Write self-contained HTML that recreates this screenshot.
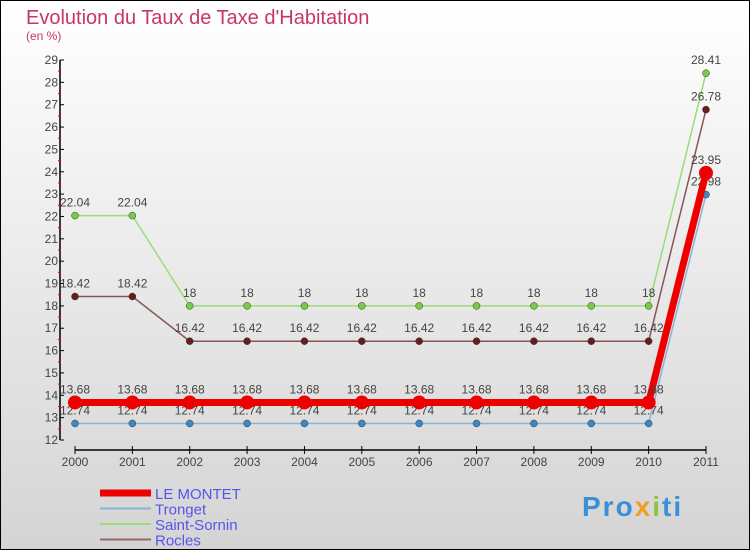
<!DOCTYPE html>
<html><head><meta charset="utf-8"><style>
body{margin:0;width:750px;height:550px;overflow:hidden;font-family:"Liberation Sans",sans-serif}
svg{display:block}
</style></head><body>
<svg id="chart" width="750" height="550" xmlns="http://www.w3.org/2000/svg">
<defs><linearGradient id="bg" x1="0" y1="0" x2="0" y2="1"><stop offset="0" stop-color="#ffffff"/><stop offset="1" stop-color="#d4d4d4"/></linearGradient></defs>
<rect x="0.5" y="0.5" width="749" height="549" fill="url(#bg)" stroke="#000"/>
<text x="26" y="24" font-size="20" fill="#c8356a">Evolution du Taux de Taxe d'Habitation</text>
<text x="26" y="40" font-size="12" fill="#c8356a">(en %)</text>
<g id="axes"></g>
<g id="series"></g>
<g id="legend"></g>
<text x="582" y="516" font-size="28" font-weight="bold" fill="#3a8fd6" letter-spacing="2">Pro<tspan fill="#f0a020">x</tspan><tspan fill="#8cc63f">i</tspan>ti</text>
</svg>
<script>
const years=[2000,2001,2002,2003,2004,2005,2006,2007,2008,2009,2010,2011];
const yTicks=[12,13,14,15,16,17,18,19,20,21,22,23,24,25,26,27,28,29];
const leMontet=[13.68,13.68,13.68,13.68,13.68,13.68,13.68,13.68,13.68,13.68,13.68,23.95];
const tronget=[12.74,12.74,12.74,12.74,12.74,12.74,12.74,12.74,12.74,12.74,12.74,22.98];
const saintSornin=[22.04,22.04,18,18,18,18,18,18,18,18,18,28.41];
const rocles=[18.42,18.42,16.42,16.42,16.42,16.42,16.42,16.42,16.42,16.42,16.42,26.78];
const NS="http://www.w3.org/2000/svg";
const x=i=>75+i*(631/11);
const y=v=>440-(v-12)*(380/17);
function mk(tag,attrs,parent,txt){const e=document.createElementNS(NS,tag);for(const k in attrs)e.setAttribute(k,attrs[k]);if(txt!==undefined)e.textContent=txt;parent.appendChild(e);return e;}
const ax=document.getElementById('axes');
let e=mk('line',{x1:60,y1:y(29),x2:60,y2:y(12),stroke:'#000','stroke-width':1.5},ax);


yTicks.forEach(t=>{
 let l=mk('line',{x1:60,y1:y(t),x2:64,y2:y(t),stroke:'#000'},ax);
 
 
 if(t<29){let h=mk('line',{x1:58,y1:y(t+0.5),x2:61,y2:y(t+0.5),stroke:'#e00'},ax);
 
 }
 let tx=mk('text',{x:58,y:y(t)+4,'font-size':12,'text-anchor':'end',fill:'#444'},ax,t);
 
 
});
e=mk('line',{x1:75,y1:450,x2:706,y2:450,stroke:'#000','stroke-width':1.5},ax);


years.forEach((yr,i)=>{
 let l=mk('line',{x1:x(i),y1:446,x2:x(i),y2:454,stroke:'#000'},ax);
 
 
 let tx=mk('text',{x:x(i),y:466,'font-size':12,'text-anchor':'middle',fill:'#444'},ax,yr);
 
 
});
const sg=document.getElementById('series');
function labelFmt(v){return String(v);}
function drawSeries(name,vals,color,dot,w,r){
 const g=mk('g',{},sg);
 
 
 const p=mk('polyline',{points:vals.map((v,i)=>x(i)+','+y(v)).join(' '),fill:'none',stroke:color,'stroke-width':w},g);
 
 
 vals.forEach((v,i)=>{
  const c=mk('circle',{cx:x(i),cy:y(v),r:r,fill:dot,stroke:'#333','stroke-width':r>5?0:0.5},g);
  
  
  const t=mk('text',{x:x(i),y:y(v)-9,'font-size':12,'text-anchor':'middle',fill:'#444'},g,labelFmt(v));
  
  
 });
}
drawSeries('saint-sornin',saintSornin,'#99dd77','#77cc44',1.5,3.5);
drawSeries('rocles',rocles,'#885555','#661d1d',1.5,3.5);
drawSeries('tronget',tronget,'#88b4d4','#3a88c8',1.5,3.5);
drawSeries('le-montet',leMontet,'#ee0000','#ee0000',7,7);
const lg=document.getElementById('legend');
const leg=[['LE MONTET','#ee0000',7],['Tronget','#88b4d4',2],['Saint-Sornin','#99dd77',2],['Rocles','#996666',2]];
leg.forEach((d,i)=>{
 const yy=493+i*15.5;
 const l=mk('line',{x1:100,y1:yy,x2:151,y2:yy,stroke:d[1],'stroke-width':d[2]},lg);
 
 
 const t=mk('text',{x:155,y:yy+6,'font-size':15,fill:'#5555ee'},lg,d[0]);
 
 
});
</script>
</body></html>
